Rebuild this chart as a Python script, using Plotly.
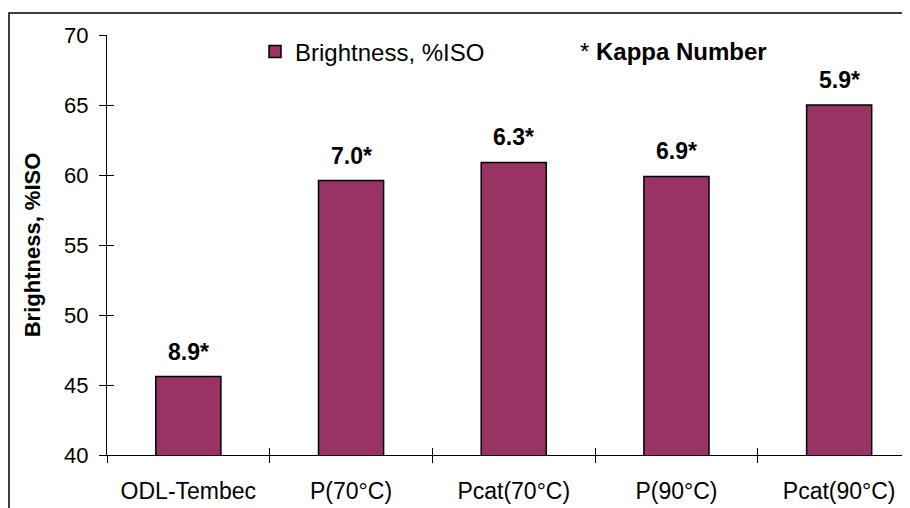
import plotly.graph_objects as go

categories = ["ODL-Tembec", "P(70°C)", "Pcat(70°C)", "P(90°C)", "Pcat(90°C)"]
brightness = [45.6, 59.6, 60.9, 59.9, 65.0]
kappa_labels = ["8.9*", "7.0*", "6.3*", "6.9*", "5.9*"]
y_ticks = [40, 45, 50, 55, 60, 65, 70]

FONT = "Liberation Sans, Arial, sans-serif"
BAR_COLOR = "#993366"

fig = go.Figure()
fig.add_trace(go.Bar(
    x=categories, y=brightness, name="Brightness, %ISO",
    marker=dict(color=BAR_COLOR, line=dict(color="black", width=1.5)),
    width=0.4, hoverinfo="x+y",
))
# invisible copy on overlay axes (used for the inner half of crossing tick marks)
fig.add_trace(go.Bar(
    x=categories, y=brightness, xaxis="x2", yaxis="y2", showlegend=False,
    marker=dict(color="rgba(0,0,0,0)", line=dict(width=0)), width=0.4,
    hoverinfo="skip",
))

for c, v, t in zip(categories, brightness, kappa_labels):
    fig.add_annotation(x=c, y=v, text="<b>%s</b>" % t, showarrow=False,
                       yanchor="bottom", yshift=10,
                       font=dict(family=FONT, size=23, color="black"))

fig.add_annotation(xref="paper", yref="paper", x=(578 - 107) / 803, y=(455 - 52) / 420,
                   xanchor="left", yanchor="middle", showarrow=False,
                   text="* <b>Kappa Number</b>",
                   font=dict(family=FONT, size=24, color="black"))

xr = [-0.5, -0.5 + 803 / 162.7]
common_x = dict(type="category", categoryorder="array", categoryarray=categories,
                range=xr, tickson="boundaries", ticklen=7, tickwidth=1.3, tickcolor="black",
                showgrid=False, zeroline=False)
common_y = dict(range=[40, 70], tickvals=y_ticks, ticklen=7, tickwidth=1.3, tickcolor="black",
                showgrid=False, zeroline=False)

fig.update_layout(
    width=910, height=508,
    margin=dict(l=99, r=8, t=27, b=61),
    paper_bgcolor="white", plot_bgcolor="white",
    font=dict(family=FONT, size=22, color="black"),
    showlegend=True,
    legend=dict(x=(255 - 107) / 803, y=(455 - 52) / 420, xanchor="left", yanchor="middle",
                bgcolor="rgba(0,0,0,0)", font=dict(family=FONT, size=24, color="black"),
                itemclick=False, itemdoubleclick=False),
    bargap=0.6,
    xaxis=dict(**common_x, ticks="outside", showline=True, linecolor="black", linewidth=1.3,
               tickfont=dict(family=FONT, size=23), ticklabelstandoff=15),
    yaxis=dict(**common_y, ticks="outside", showline=True, linecolor="black", linewidth=1.3,
               tickfont=dict(family=FONT, size=22), ticklabelstandoff=6,
               title=dict(text="<b>Brightness, %ISO</b>", font=dict(family=FONT, size=22),
                          standoff=17)),
    xaxis2=dict(**common_x, overlaying="x", anchor="y2", ticks="inside", showticklabels=False,
                showline=False),
    yaxis2=dict(**common_y, overlaying="y", anchor="x2", ticks="inside", showticklabels=False,
                showline=False),
    shapes=[dict(type="rect", xref="paper", yref="paper",
                 x0=(9 - 107) / 803, x1=1.05, y0=(455 - 520) / 420, y1=(455 - 13) / 420,
                 line=dict(color="black", width=1.5), fillcolor="rgba(0,0,0,0)", layer="below")],
)

fig.write_html("out.html")
